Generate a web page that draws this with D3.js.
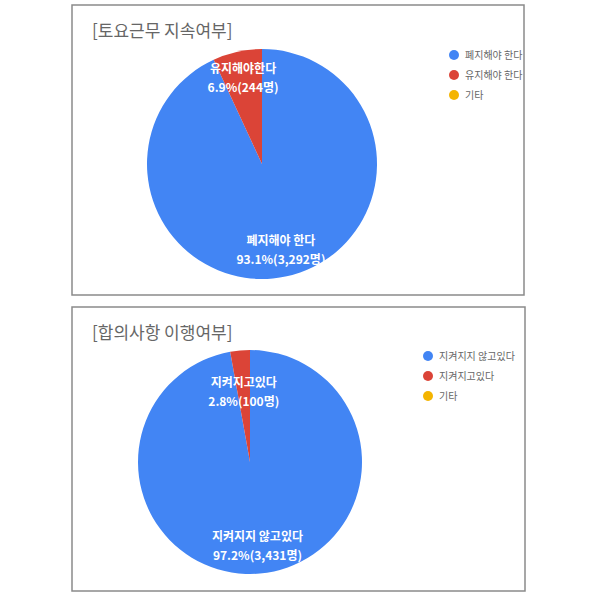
<!DOCTYPE html>
<html>
<head>
<meta charset="utf-8">
<script src="https://cdn.jsdelivr.net/npm/d3@7"></script>
<style>
  body { margin: 0; background: #fff; }
  text { font-family: "Noto Sans CJK KR", "Noto Sans", sans-serif; }
</style>
</head>
<body>
<div id="chart"></div>
<script>
// chart 1 data
var title1 = "[토요근무 지속여부]";
var legend1 = ["폐지해야 한다", "유지해야 한다", "기타"];
var sliceNames1 = ["폐지해야 한다", "유지해야한다", "기타"];
var values1 = [3292, 244, 0];

// chart 2 data
var title2 = "[합의사항 이행여부]";
var legend2 = ["지켜지지 않고있다", "지켜지고있다", "기타"];
var sliceNames2 = ["지켜지지 않고있다", "지켜지고있다", "기타"];
var values2 = [3431, 100, 0];

var colors = ["#4285F4", "#DB4437", "#F4B400"];

var svg = d3.select("#chart").append("svg").attr("width", 600).attr("height", 600);

var fmtCount = d3.format(",");

var drawPie = function(opts){
    var g = svg.append("g");

    g.append("rect")
        .attr("x", opts.box[0]).attr("y", opts.box[1])
        .attr("width", opts.box[2]).attr("height", opts.box[3])
        .attr("fill", "#fff").attr("stroke", "#8a8a8a").attr("stroke-width", 1.5);

    g.append("text")
        .attr("x", opts.box[0] + 20).attr("y", opts.box[1] + 32)
        .attr("font-size", 17).attr("fill", "#666")
        .text(opts.title);

    var total = d3.sum(opts.values);
    var pie = d3.pie().sort(null).value(function(d){ return d.value; });
    var data = opts.values.map(function(v, i){
        return {value: v, name: opts.names[i], color: colors[i]};
    });
    var arcs = pie(data);

    var arc = d3.arc().innerRadius(0).outerRadius(opts.r);

    var pg = g.append("g").attr("transform", "translate(" + opts.cx + "," + opts.cy + ")");
    pg.selectAll("path")
        .data(arcs.filter(function(d){ return d.data.value > 0; }))
        .enter()
        .append("path")
        .attr("d", arc)
        .attr("fill", function(d){ return d.data.color; });

    var labels = pg.selectAll("g.lbl")
        .data(arcs.filter(function(d){ return d.data.value > 0; }))
        .enter()
        .append("g")
        .attr("class", "lbl")
        .attr("transform", function(d, i){
            var lr = opts.labelR[i];
            var c = d3.arc().innerRadius(lr).outerRadius(lr).centroid(d);
            return "translate(" + c[0] + "," + c[1] + ")";
        });
    labels.append("text")
        .attr("text-anchor", "middle").attr("y", -5)
        .attr("font-size", 12).attr("font-weight", "bold").attr("fill", "#fff")
        .text(function(d){ return d.data.name; });
    labels.append("text")
        .attr("text-anchor", "middle").attr("y", 14)
        .attr("font-size", 12).attr("font-weight", "bold").attr("fill", "#fff")
        .text(function(d){
            return (d.data.value / total * 100).toFixed(1) + "%(" + fmtCount(d.data.value) + "명)";
        });

    var lg = g.append("g").attr("transform", "translate(" + opts.legend[0] + "," + opts.legend[1] + ")");
    var items = lg.selectAll("g")
        .data(opts.legendNames)
        .enter()
        .append("g")
        .attr("transform", function(d, i){ return "translate(0," + (i * 20) + ")"; });
    items.append("circle").attr("r", 5).attr("fill", function(d, i){ return colors[i]; });
    items.append("text")
        .attr("x", 11).attr("y", 4)
        .attr("font-size", 10).attr("fill", "#666")
        .text(function(d){ return d; });
};

drawPie({
    box: [72, 5, 452, 290], title: title1,
    values: values1, names: sliceNames1, legendNames: legend1,
    cx: 262, cy: 164, r: 115, labelR: [88, 88],
    legend: [454, 55]
});

drawPie({
    box: [72, 307, 453, 284], title: title2,
    values: values2, names: sliceNames2, legendNames: legend2,
    cx: 250, cy: 462, r: 112, labelR: [84, 70],
    legend: [428, 356]
});
</script>
</body>
</html>
